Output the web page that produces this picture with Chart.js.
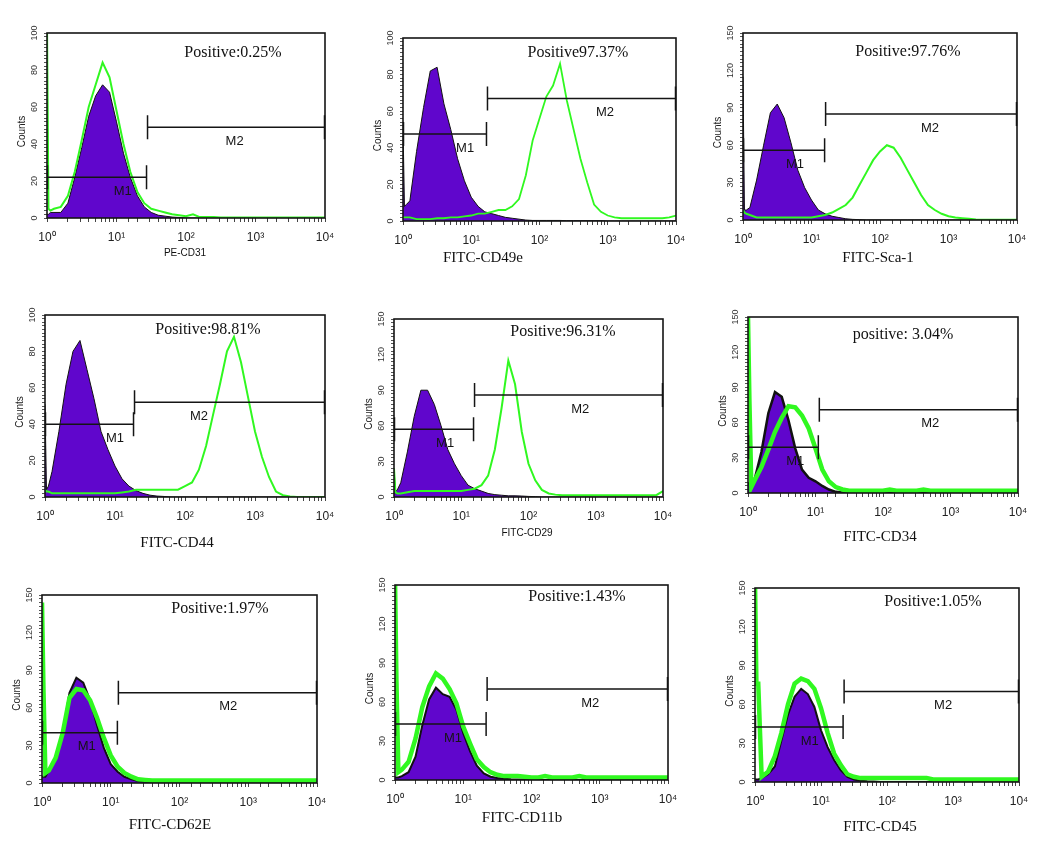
<!DOCTYPE html>
<html>
<head>
<meta charset="utf-8">
<script src="https://cdn.jsdelivr.net/npm/chart.js@4.4.1/dist/chart.umd.min.js"></script>
<style>
  html, body { margin: 0; padding: 0; background: #fff; }
  #wrap { position: relative; width: 1050px; height: 856px; overflow: hidden; }
  #wrap canvas { position: absolute; }
</style>
</head>
<body>
<div id="wrap"></div>
<script>
// fluorescence channels (log scale), shared by every histogram
const CHANNELS = [1, 1.05, 1.12, 1.26, 1.58, 2, 2.51, 3.16, 3.98, 5.01, 6.31, 7.94, 10,
  12.6, 15.8, 20, 25.1, 31.6, 39.8, 50.1, 63.1, 79.4, 100,
  126, 158, 200, 251, 316, 398, 501, 631, 794, 1000,
  1259, 1585, 1995, 2512, 3162, 3981, 5012, 6310, 7943, 10000];
const X_TICKS = [1, 10, 100, 1000, 10000];
const X_TICK_TEXT = ['10\u2070', '10\u00b9', '10\u00b2', '10\u00b3', '10\u2074'];

// counts per channel: isotype control (purple) and stained sample (green)
const CD31_CTRL = [2, 2, 3, 3, 3, 8, 22, 38, 55, 66, 72, 68, 52,
  35, 22, 12, 6, 3, 1.5, 1, 0.5, 0.3, 0,
  0, 0, 0, 0, 0, 0, 0, 0, 0, 0,
  0, 0, 0, 0, 0, 0, 0, 0, 0, 0];
const CD31_SAMPLE = [105, 5, 4, 5, 6, 12, 25, 42, 60, 72, 84, 76, 58,
  40, 25, 14, 8, 5, 4, 3, 2, 1.5, 1,
  2, 0.5, 0.5, 0.5, 0.3, 0.3, 0.3, 0.3, 0.3, 0.3,
  0.3, 0.3, 0.3, 0.3, 0.3, 0.3, 0.3, 0.3, 0.3, 0.3];

const CD49E_CTRL = [52, 8, 9, 11, 38, 62, 82, 84, 64, 50, 34, 22, 13,
  8, 5, 4, 3, 2, 1.5, 1, 0.5, 0.3, 0.3,
  0.3, 0.3, 0.3, 0.2, 0.2, 0.2, 0.2, 0.2, 0.2, 0,
  0, 0, 0, 0, 0, 0, 0, 0, 0, 0];
const CD49E_SAMPLE = [2, 2, 2, 2, 1, 1, 1, 1.5, 1.5, 2, 2, 2.5, 3,
  4, 4, 5, 6, 6, 8, 12, 25, 44, 56,
  68, 74, 86, 66, 50, 34, 21, 9, 5, 3,
  2, 1.5, 1.5, 1.5, 1.5, 1.5, 1.5, 1.5, 2, 3];

const SCA1_CTRL = [115, 8, 8, 10, 32, 60, 86, 93, 82, 62, 40, 26, 16,
  8, 5, 3, 2, 1, 0.5, 0.3, 0, 0, 0,
  0, 0, 0, 0, 0, 0, 0, 0, 0, 0,
  0, 0, 0, 0, 0, 0, 0, 0, 0, 0];
const SCA1_SAMPLE = [8, 6, 5, 4, 2, 2, 2, 2, 2, 2, 2, 2, 2,
  3, 4, 6, 9, 12, 18, 28, 38, 48, 55,
  60, 58, 50, 40, 30, 20, 12, 8, 5, 3,
  2, 1.5, 1, 0.5, 0.3, 0.3, 0.3, 0.3, 0.3, 0.3];

const CD44_CTRL = [51, 4, 6, 14, 36, 62, 80, 86, 70, 54, 36, 26, 17,
  10, 6, 3.5, 2, 1, 0.5, 0.3, 0, 0, 0,
  0, 0, 0, 0, 0, 0, 0, 0, 0, 0,
  0, 0, 0, 0, 0, 0, 0, 0, 0, 0];
const CD44_SAMPLE = [4, 3, 3, 2, 2, 2, 2, 2, 2, 2, 2, 2, 2,
  2.5, 3, 4, 4, 4, 4, 4, 4, 4, 6,
  8, 15, 28, 45, 62, 80, 88, 74, 55, 36,
  22, 11, 3, 1, 0.3, 0, 0, 0, 0, 0];

const CD29_CTRL = [24, 5, 6, 12, 38, 68, 90, 90, 78, 60, 40, 28, 18,
  10, 7, 5, 3, 2, 1.5, 1, 1, 0.8, 0.5,
  0.3, 0, 0, 0, 0, 0, 0, 0, 0, 0,
  0, 0, 0, 0, 0, 0, 0, 0, 0, 0];
const CD29_SAMPLE = [24, 4, 3, 3, 4, 5, 5, 5, 5, 5, 5, 5, 5,
  6, 7, 10, 18, 40, 75, 115, 95, 55, 28,
  14, 6, 3, 2, 1.5, 1.5, 1.5, 1.5, 1.5, 1.5,
  1.5, 1.5, 1.5, 1.5, 1.5, 1.5, 1.5, 1.5, 1.5, 5];

const CD34_CTRL = [8, 8, 8, 12, 35, 68, 86, 82, 62, 38, 20, 13, 10,
  6, 3, 1, 0.5, 0, 0, 0, 0, 0, 0,
  0, 0, 0, 0, 0, 0, 0, 0, 0, 0,
  0, 0, 0, 0, 0, 0, 0, 0, 0, 0];
const CD34_SAMPLE = [150, 78, 5, 11, 22, 37, 52, 64, 74, 73, 66, 55, 38,
  20, 10, 5, 3, 2, 2, 2, 2, 2, 2,
  3, 2, 2, 2, 2, 3, 2, 2, 2, 2,
  2, 2, 2, 2, 2, 2, 2, 2, 2, 2];

const CD62E_CTRL = [5, 5, 5, 10, 20, 40, 72, 84, 80, 66, 46, 28, 15,
  9, 5, 3, 1.5, 1, 0.5, 0, 0, 0, 0,
  0, 0, 0, 0, 0, 0, 0, 0, 0, 0,
  0, 0, 0, 0, 0, 0, 0, 0, 0, 0];
const CD62E_SAMPLE = [144, 75, 8, 10, 20, 40, 68, 75, 74, 66, 52, 36, 22,
  13, 8, 5, 3, 2.5, 2, 2, 2, 2, 2,
  2, 2, 2, 2, 2, 2, 2, 2, 2, 2,
  2, 2, 2, 2, 2, 2, 2, 2, 2, 2];

const CD11B_CTRL = [2, 2, 2, 3, 6, 18, 42, 62, 71, 66, 64, 54, 36,
  22, 11, 5, 2.5, 1.5, 1, 0.5, 0.3, 0.3, 0,
  0, 0, 0, 0, 0, 0, 0, 0, 0, 0,
  0, 0, 0, 0, 0, 0, 0, 0, 0, 0];
const CD11B_SAMPLE = [155, 76, 6, 8, 14, 32, 56, 72, 82, 78, 70, 59, 41,
  28, 16, 10, 6, 4, 3, 3, 3, 2.5, 2,
  2, 3, 2, 2, 2, 2, 3, 2, 2, 2,
  2, 2, 2, 2, 2, 2, 2, 2, 2, 2];

const CD45_CTRL = [2, 2, 2, 3, 6, 12, 32, 52, 66, 72, 68, 58, 40,
  27, 17, 9, 4, 2, 1, 0.5, 0.3, 0, 0,
  0, 0, 0, 0, 0, 0, 0, 0, 0, 0,
  0, 0, 0, 0, 0, 0, 0, 0, 0, 0];
const CD45_SAMPLE = [155, 76, 76, 4, 8, 20, 38, 60, 76, 80, 78, 72, 57,
  38, 22, 13, 6, 4, 3, 3, 3, 3, 3,
  3, 3, 3, 3, 3, 3, 2, 2, 2, 2,
  2, 2, 2, 2, 2, 2, 2, 2, 2, 2];

const MARKERS = ['PE-CD31', 'FITC-CD49e', 'FITC-Sca-1', 'FITC-CD44', 'FITC-CD29',
  'FITC-CD34', 'FITC-CD62E', 'FITC-CD11b', 'FITC-CD45'];
const POSITIVE = ['Positive:0.25%', 'Positive97.37%', 'Positive:97.76%', 'Positive:98.81%',
  'Positive:96.31%', 'positive: 3.04%', 'Positive:1.97%', 'Positive:1.43%', 'Positive:1.05%'];
const Y_MAX = [100, 100, 150, 100, 150, 150, 150, 150, 150];
const CTRL = [CD31_CTRL, CD49E_CTRL, SCA1_CTRL, CD44_CTRL, CD29_CTRL, CD34_CTRL, CD62E_CTRL, CD11B_CTRL, CD45_CTRL];
const SAMPLE = [CD31_SAMPLE, CD49E_SAMPLE, SCA1_SAMPLE, CD44_SAMPLE, CD29_SAMPLE, CD34_SAMPLE, CD62E_SAMPLE, CD11B_SAMPLE, CD45_SAMPLE];
// gates [from, to, bar height in counts]
const GATE_M1 = [[1, 27.5, 22], [1, 17, 47.5], [1, 15.8, 56], [1, 18.7, 40], [1, 15.5, 57],
  [1, 11.2, 39], [1, 12.7, 40], [1, 22, 43], [1, 22, 42.5]];
const GATE_M2 = [[27.5, 10000, 49], [17, 10000, 67], [15.8, 10000, 85], [18.7, 10000, 52], [15.5, 10000, 86],
  [11.2, 10000, 71], [12.7, 10000, 72], [22, 10000, 70], [22, 10000, 70]];

// ---- layout (page px) ----
const BOX = [[47, 33, 325, 218], [403, 38, 676, 221], [743, 33, 1017, 220],
  [45, 315, 325, 497], [394, 319, 663, 497], [748, 317, 1018, 493],
  [42, 595, 317, 783], [395, 585, 668, 780], [755, 588, 1019, 782]];
const POS_XY = [[233, 53], [578, 53], [908, 52], [208, 330], [563, 332], [903, 335], [220, 609], [577, 597], [933, 602]];
const TITLE_XY = [[185, 253], [483, 258], [878, 258], [177, 543], [527, 533], [880, 537], [170, 825], [522, 818], [880, 827]];
const TITLE_SERIF = [false, true, true, true, false, true, true, true, true];
const LABEL_LOGX = [[1.09, 2.7], [0.91, 2.96], [0.76, 2.73], [1.0, 2.2], [0.76, 2.77],
  [0.7, 2.7], [0.65, 2.71], [0.85, 2.86], [0.83, 2.85]];
const GREEN_W = [2, 1.8, 2, 2, 2, 4.5, 4.5, 4.5, 4.5];
const CTRL_W = [1, 1, 1, 1, 1, 2.5, 2, 2, 2];

const PURPLE = '#6006cc', GREEN = '#30f820';
const SANS = '"Liberation Sans", Arial, sans-serif';
const SERIF = '"Liberation Serif", "Times New Roman", serif';
const PADL = 45, PADR = 12, PADT = 12, PADB = 62;

const wrap = document.getElementById('wrap');
const pts = (arr) => arr.map((v, i) => ({ x: CHANNELS[i], y: v }));

MARKERS.forEach((name, i) => {
  const [l, t, r, b] = BOX[i];
  const cx = l - PADL, cy = t - PADT;
  const cv = document.createElement('canvas');
  cv.width = r - l + PADL + PADR;
  cv.height = b - t + PADT + PADB;
  cv.style.left = cx + 'px';
  cv.style.top = cy + 'px';
  wrap.appendChild(cv);
  const ymax = Y_MAX[i];
  const labStep = ymax === 100 ? 20 : 30;

  // gates, frame and all the text around the plot
  const decor = {
    id: 'decor',
    afterDatasetsDraw(chart) {
      const { ctx, chartArea: a, scales: { x, y } } = chart;
      ctx.save();
      ctx.strokeStyle = '#151515';
      ctx.fillStyle = '#151515';
      ctx.lineWidth = 1.5;
      [GATE_M1[i], GATE_M2[i]].forEach((g, k) => {
        const x0 = x.getPixelForValue(g[0]), x1 = x.getPixelForValue(g[1]), yy = y.getPixelForValue(g[2]);
        ctx.beginPath();
        ctx.moveTo(x0, yy); ctx.lineTo(x1, yy);
        ctx.moveTo(x0 + 0.5, yy - 12); ctx.lineTo(x0 + 0.5, yy + 12);
        ctx.moveTo(x1 - 0.5, yy - 12); ctx.lineTo(x1 - 0.5, yy + 12);
        ctx.stroke();
        ctx.font = '13px ' + SANS;
        ctx.textAlign = 'center';
        ctx.textBaseline = 'middle';
        ctx.fillText('M' + (k + 1), x.getPixelForValue(Math.pow(10, LABEL_LOGX[i][k])), yy + 14);
      });
      ctx.lineWidth = 1.6;
      ctx.strokeRect(a.left, a.top, a.width, a.height);
      ctx.restore();
    },
    afterDraw(chart) {
      const { ctx, chartArea: a, scales: { x, y } } = chart;
      ctx.save();
      ctx.fillStyle = '#333';
      ctx.font = '9px ' + SANS;
      ctx.textAlign = 'center';
      ctx.textBaseline = 'middle';
      y.ticks.forEach((tk) => {
        if (tk.value % labStep !== 0) return;
        ctx.save();
        ctx.translate(a.left - 12, y.getPixelForValue(tk.value));
        ctx.rotate(-Math.PI / 2);
        ctx.fillText(String(tk.value), 0, 0);
        ctx.restore();
      });
      ctx.fillStyle = '#222';
      ctx.font = '12px ' + SANS;
      X_TICKS.forEach((v, k) => {
        ctx.fillText(X_TICK_TEXT[k], x.getPixelForValue(v), a.bottom + 20);
      });
      ctx.save();
      ctx.font = '10px ' + SANS;
      ctx.translate(a.left - 25, (a.top + a.bottom) / 2 + 6);
      ctx.rotate(-Math.PI / 2);
      ctx.fillText('Counts', 0, 0);
      ctx.restore();

      ctx.fillStyle = '#111';
      ctx.font = TITLE_SERIF[i] ? '15px ' + SERIF : '10px ' + SANS;
      ctx.fillText(name, TITLE_XY[i][0] - cx, TITLE_XY[i][1] - cy);
      ctx.font = '16px ' + SERIF;
      ctx.fillText(POSITIVE[i], POS_XY[i][0] - cx, POS_XY[i][1] - cy);
      ctx.restore();
    },
  };

  new Chart(cv, {
    type: 'line',
    data: {
      datasets: [
        { data: pts(SAMPLE[i]), borderColor: GREEN, borderWidth: GREEN_W[i], fill: false,
          pointRadius: 0, tension: 0, order: 0 },
        { data: pts(CTRL[i]), borderColor: '#111', borderWidth: CTRL_W[i], backgroundColor: PURPLE,
          fill: 'origin', pointRadius: 0, tension: 0, order: 1 },
      ],
    },
    options: {
      responsive: false,
      animation: false,
      layout: { padding: { left: 0, right: PADR, top: PADT, bottom: 0 } },
      plugins: { legend: { display: false }, tooltip: { enabled: false } },
      scales: {
        x: {
          type: 'logarithmic', min: 1, max: 10000,
          afterFit: (s) => { s.height = PADB; },
          border: { display: false },
          grid: { drawOnChartArea: false, drawTicks: true, tickLength: 4, color: '#444' },
          ticks: { display: false, autoSkip: false },
        },
        y: {
          type: 'linear', min: 0, max: ymax,
          afterFit: (s) => { s.width = PADL; },
          border: { display: false },
          grid: { drawOnChartArea: false, drawTicks: true, tickLength: 3, color: '#555' },
          ticks: { display: false, stepSize: ymax === 100 ? 2 : 3 },
        },
      },
    },
    plugins: [decor],
  });
});
</script>
</body>
</html>
